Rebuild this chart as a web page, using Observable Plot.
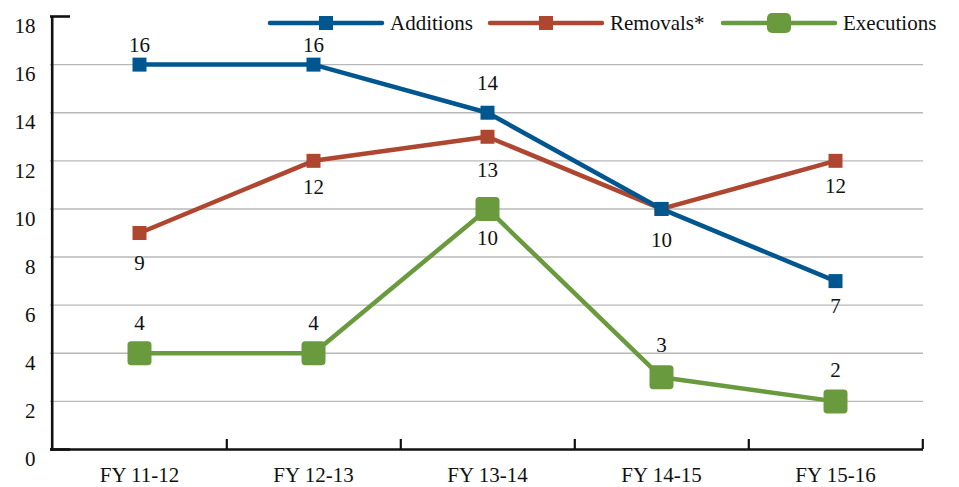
<!DOCTYPE html>
<html>
<head>
<meta charset="utf-8">
<script src="https://cdn.jsdelivr.net/npm/d3@7"></script>
<script src="https://cdn.jsdelivr.net/npm/@observablehq/plot@0.6"></script>
<style>
  html, body { margin: 0; padding: 0; background: #fff; }
  #wrap { position: relative; width: 959px; height: 487px; font-family: "Liberation Serif", "DejaVu Serif", serif; }
  #wrap svg { position: absolute; left: 0; top: 0; }
</style>
</head>
<body>
<div id="wrap"></div>
<script>
// ---- data ----
const categories = ["FY 11-12", "FY 12-13", "FY 13-14", "FY 14-15", "FY 15-16"];
const additions  = [16, 16, 14, 10, 7];
const removals   = [9, 12, 13, 10, 12];
const executions = [4, 4, 10, 3, 2];
const seriesNames = ["Additions", "Removals*", "Executions"];
const yTicks = [0, 2, 4, 6, 8, 10, 12, 14, 16, 18];
const gridTicks = [2, 4, 6, 8, 10, 12, 14, 16];

// ---- style / layout config ----
const W = 959, H = 487;
const mL = 50, mR = 36, mT = 16, mB = 38;
const innerW = W - mL - mR, innerH = H - mT - mB;
const step = innerW / categories.length;
const font = "Liberation Serif, DejaVu Serif, serif";
const colors = {"Additions": "#00568f", "Removals*": "#ae4630", "Executions": "#6a9a3e"};
// label vertical offsets (px) for each point of each series
const labelDy = {
  "Additions":  [-19, -19, -29, 31, 25],
  "Removals*":  [30, 26, 33, 31, 25],
  "Executions": [-30, -30, 29, -32, -31]
};

const seriesValues = {"Additions": additions, "Removals*": removals, "Executions": executions};
const rows = name => categories.map((c, i) => ({cat: c, v: seriesValues[name][i], dy: labelDy[name][i]}));
const addRows = rows("Additions"), remRows = rows("Removals*"), exeRows = rows("Executions");
const tickUnits = 10 * 18 / innerH;

// one label per distinct position (coincident labels drawn once)
const seen = new Set();
const labelRows = [...exeRows, ...remRows, ...addRows].filter(r => {
  const k = r.cat + "|" + r.v + "|" + r.dy;
  if (seen.has(k)) return false;
  seen.add(k); return true;
});

const plot = Plot.plot({
  width: W, height: H,
  marginLeft: mL, marginRight: mR, marginTop: mT, marginBottom: mB,
  style: {fontFamily: font, fontSize: "21px", color: "#111", background: "white"},
  x: {type: "point", domain: categories, padding: 0.5, align: 0.5, axis: null},
  y: {domain: [0, 18], axis: null},
  marks: [
    Plot.ruleY(gridTicks, {stroke: "#b8b8b8", strokeWidth: 1.4}),
    Plot.axisY(yTicks, {label: null, tickSize: 0, tickPadding: 15, dy: 10, fill: "#111", fontSize: 21}),
    Plot.axisX(categories, {label: null, tickSize: 0, tickPadding: 18, fill: "#111", fontSize: 21}),
    // axes lines
    Plot.ruleY([0], {stroke: "#111", strokeWidth: 2.6}),
    Plot.ruleX([categories[0]], {dx: -step / 2, y1: 0, y2: 18, stroke: "#111", strokeWidth: 2.6}),
    Plot.ruleY([18, 0], {insetRight: innerW - 20, stroke: "#111", strokeWidth: 2.6}),
    Plot.ruleX(categories, {x: d => d, dx: step / 2, y1: 0, y2: tickUnits, stroke: "#111", strokeWidth: 2.2}),
    // Executions
    Plot.line(exeRows, {x: "cat", y: "v", stroke: colors["Executions"], strokeWidth: 4.5, strokeLinejoin: "round"}),
    Plot.dot(exeRows, {x: "cat", y: "v", symbol: "square", r: 16.5 / Math.sqrt(Math.PI), fill: colors["Executions"], stroke: colors["Executions"], strokeWidth: 7.5, strokeLinejoin: "round"}),
    // Removals
    Plot.line(remRows, {x: "cat", y: "v", stroke: colors["Removals*"], strokeWidth: 4.5, strokeLinejoin: "round"}),
    Plot.dot(remRows, {x: "cat", y: "v", symbol: "square", r: 14 / Math.sqrt(Math.PI), fill: colors["Removals*"]}),
    // Additions
    Plot.line(addRows, {x: "cat", y: "v", stroke: colors["Additions"], strokeWidth: 4.5, strokeLinejoin: "round"}),
    Plot.dot(addRows, {x: "cat", y: "v", symbol: "square", r: 14 / Math.sqrt(Math.PI), fill: colors["Additions"]}),
    // labels
    ...labelRows.map(r =>
      Plot.text([r], {x: "cat", y: "v", text: d => String(d.v), dy: r.dy, fill: "#111", fontSize: 21})
    )
  ]
});
const wrap = document.getElementById("wrap");
wrap.appendChild(plot);

// legend overlay
const leg = d3.select(wrap).append("svg").attr("width", W).attr("height", 50)
  .style("font-family", font).attr("font-size", 21);
const legX = {"Additions": 270, "Removals*": 490, "Executions": 723};
const ly = 23;
for (const name of seriesNames) {
  const x0 = legX[name], c = colors[name];
  const g = leg.append("g");
  g.append("line").attr("x1", x0).attr("x2", x0 + 112).attr("y1", ly).attr("y2", ly)
    .attr("stroke", c).attr("stroke-width", 4.5).attr("stroke-linecap", "round");
  if (name === "Executions") {
    g.append("rect").attr("x", x0 + 56 - 12).attr("y", ly - 10).attr("width", 24).attr("height", 20)
      .attr("rx", 5).attr("fill", c);
  } else {
    g.append("rect").attr("x", x0 + 56 - 7).attr("y", ly - 7).attr("width", 14).attr("height", 14).attr("fill", c);
  }
  g.append("text").attr("x", x0 + 120).attr("y", ly).attr("dy", "0.32em").attr("fill", "#111").text(name);
}
</script>
</body>
</html>
